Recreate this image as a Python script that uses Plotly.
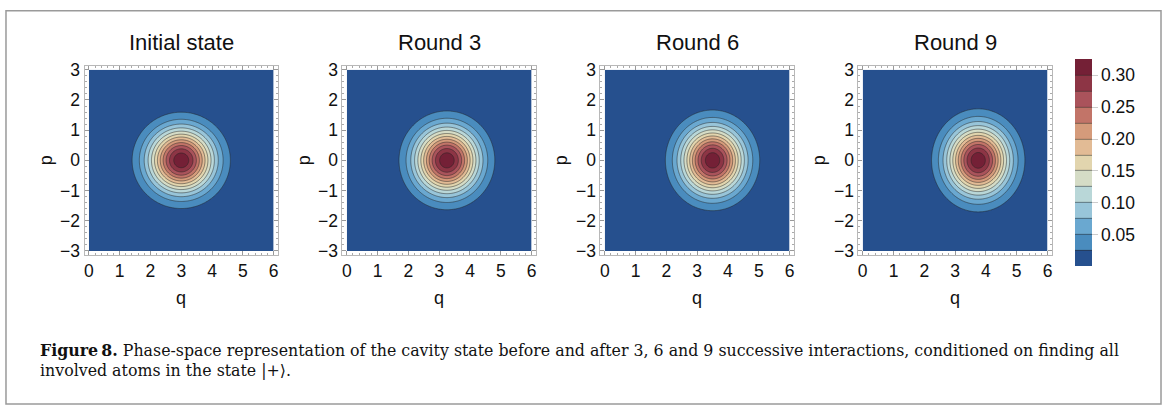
import numpy as np
import plotly.graph_objects as go

W, H = 1165, 412

# Panel titles and the Gaussian Wigner-function parameters of each cavity state
titles = ["Initial state", "Round 3", "Round 6", "Round 9"]
q_centers = [3.0, 3.25, 3.5, 3.75]
p_centers = [0.0, 0.0, 0.0, 0.0]
q_widths = [1.0, 0.975, 0.96, 0.95]
p_widths = [1.0, 1.025, 1.045, 1.07]
peak = 1 / np.pi

# Contour levels / colour bins
levels_start, levels_end, levels_step = 0.025, 0.30, 0.025
bin_colors = ["#26508e", "#4a8cbe", "#6aa8d0", "#98c5d9", "#b9d7d8", "#d5dcc6",
              "#e2d5ae", "#e2bb95", "#d59b7b", "#c27468", "#aa535b", "#8d3545", "#742036"]
cbar_ticks = [0.05, 0.10, 0.15, 0.20, 0.25, 0.30]
q_ticks = [0, 1, 2, 3, 4, 5, 6]
p_ticks = [-3, -2, -1, 0, 1, 2, 3]

caption_line1 = ("<b>Figure\u202f8.</b> Phase-space representation of the cavity state before and after "
                 "3, 6 and 9 successive interactions, conditioned on finding all")
caption_line2 = "involved atoms in the state |+\u27e9."

q = np.linspace(0, 6, 201)
p = np.linspace(-3, 3, 201)
Q, P = np.meshgrid(q, p)

nb = len(bin_colors)
zmax = nb * levels_step
colorscale = []
for i, c in enumerate(bin_colors):
    colorscale.append([i / nb, c])
    colorscale.append([(i + 1) / nb, c])

# pixel layout of the four frames
x0s = [88 + 258.4 * i for i in range(4)]
unit = 30.85
pad = 0.14
y_top_px, y_bot_px = 65.7, 252.3
yunit = (y_bot_px - y_top_px) / 6

fig = go.Figure()
frame = "#b8b8b8"
font_sans = "Liberation Sans, Arial, sans-serif"
tick_font = dict(family=font_sans, size=17.5, color="#111")

for i in range(4):
    Z = peak * np.exp(-((Q - q_centers[i]) / q_widths[i]) ** 2 - ((P - p_centers[i]) / p_widths[i]) ** 2)
    Z = np.round(Z, 5)
    xa = "x" if i == 0 else f"x{i+1}"
    ya = "y" if i == 0 else f"y{i+1}"
    tr = go.Contour(
        x=q, y=p, z=Z, xaxis=xa, yaxis=ya,
        zmin=0, zmax=zmax, colorscale=colorscale,
        contours=dict(start=levels_start, end=levels_end, size=levels_step, coloring="fill"),
        line=dict(color="rgba(35,35,35,0.7)", width=0.7),
        showscale=(i == 3), hoverinfo="skip",
    )
    if i == 3:
        tr.colorbar = dict(
            x=1076 / W, xanchor="left", y=1 - 55 / H, yanchor="top",
            len=207, lenmode="pixels", thickness=17, thicknessmode="pixels",
            xpad=0, ypad=0, outlinewidth=0,
            tickvals=cbar_ticks, ticktext=[f"{v:.2f}" for v in cbar_ticks],
            ticks="outside", ticklen=6, tickcolor="#cccccc",
            tickfont=tick_font,
        )
    fig.add_trace(tr)

    xd0 = (x0s[i] - pad * unit) / W
    xd1 = (x0s[i] + 6 * unit + pad * unit) / W
    yd1 = 1 - (y_top_px - pad * yunit) / H
    yd0 = 1 - (y_bot_px + pad * yunit) / H
    axcommon = dict(showline=True, linecolor=frame, linewidth=1, mirror="ticks",
                    ticks="inside", ticklen=4, tickcolor="#999999", showgrid=False,
                    zeroline=False, tickfont=tick_font,
                    minor=dict(ticks="inside", ticklen=2, tickcolor="#aaaaaa", dtick=0.2))
    key = "" if i == 0 else str(i + 1)
    fig.layout["xaxis" + key] = dict(domain=[xd0, xd1], range=[-pad, 6 + pad],
                                     tickvals=q_ticks, anchor=ya, **axcommon)
    fig.layout["yaxis" + key] = dict(domain=[yd0, yd1], range=[-3 - pad, 3 + pad],
                                     tickvals=p_ticks, anchor=xa, **axcommon)

    cx = (x0s[i] + 3 * unit) / W
    fig.add_annotation(text=titles[i], x=cx, y=1 - 38 / H, xref="paper", yref="paper",
                       xanchor="center", yanchor="middle", showarrow=False,
                       font=dict(family=font_sans, size=22, color="#111"))
    fig.add_annotation(text="q", x=cx, y=1 - 301 / H, xref="paper", yref="paper",
                       xanchor="center", yanchor="middle", showarrow=False,
                       font=dict(family=font_sans, size=18, color="#111"))
    fig.add_annotation(text="p", x=(x0s[i] - 43) / W, y=1 - 159 / H, xref="paper", yref="paper",
                       xanchor="center", yanchor="middle", textangle=-90, showarrow=False,
                       font=dict(family=font_sans, size=18, color="#111"))

serif = "DejaVu Serif, Liberation Serif, serif"
fig.add_annotation(text=caption_line1, x=37 / W, y=1 - 355 / H, xref="paper", yref="paper",
                   xanchor="left", yanchor="middle", showarrow=False,
                   font=dict(family=serif, size=15.8, color="#111"))
fig.add_annotation(text=caption_line2, x=37 / W, y=1 - 375 / H, xref="paper", yref="paper",
                   xanchor="left", yanchor="middle", showarrow=False,
                   font=dict(family=serif, size=15.8, color="#111"))

fig.add_shape(type="rect", xref="paper", yref="paper", x0=5 / W, x1=1162 / W,
              y0=1 - 410 / H, y1=1 - 5 / H, line=dict(color="#9a9a9a", width=1.5))

fig.update_layout(width=W, height=H, margin=dict(l=0, r=0, t=0, b=0),
                  paper_bgcolor="white", plot_bgcolor="white", showlegend=False)

fig.write_html("out.html")
